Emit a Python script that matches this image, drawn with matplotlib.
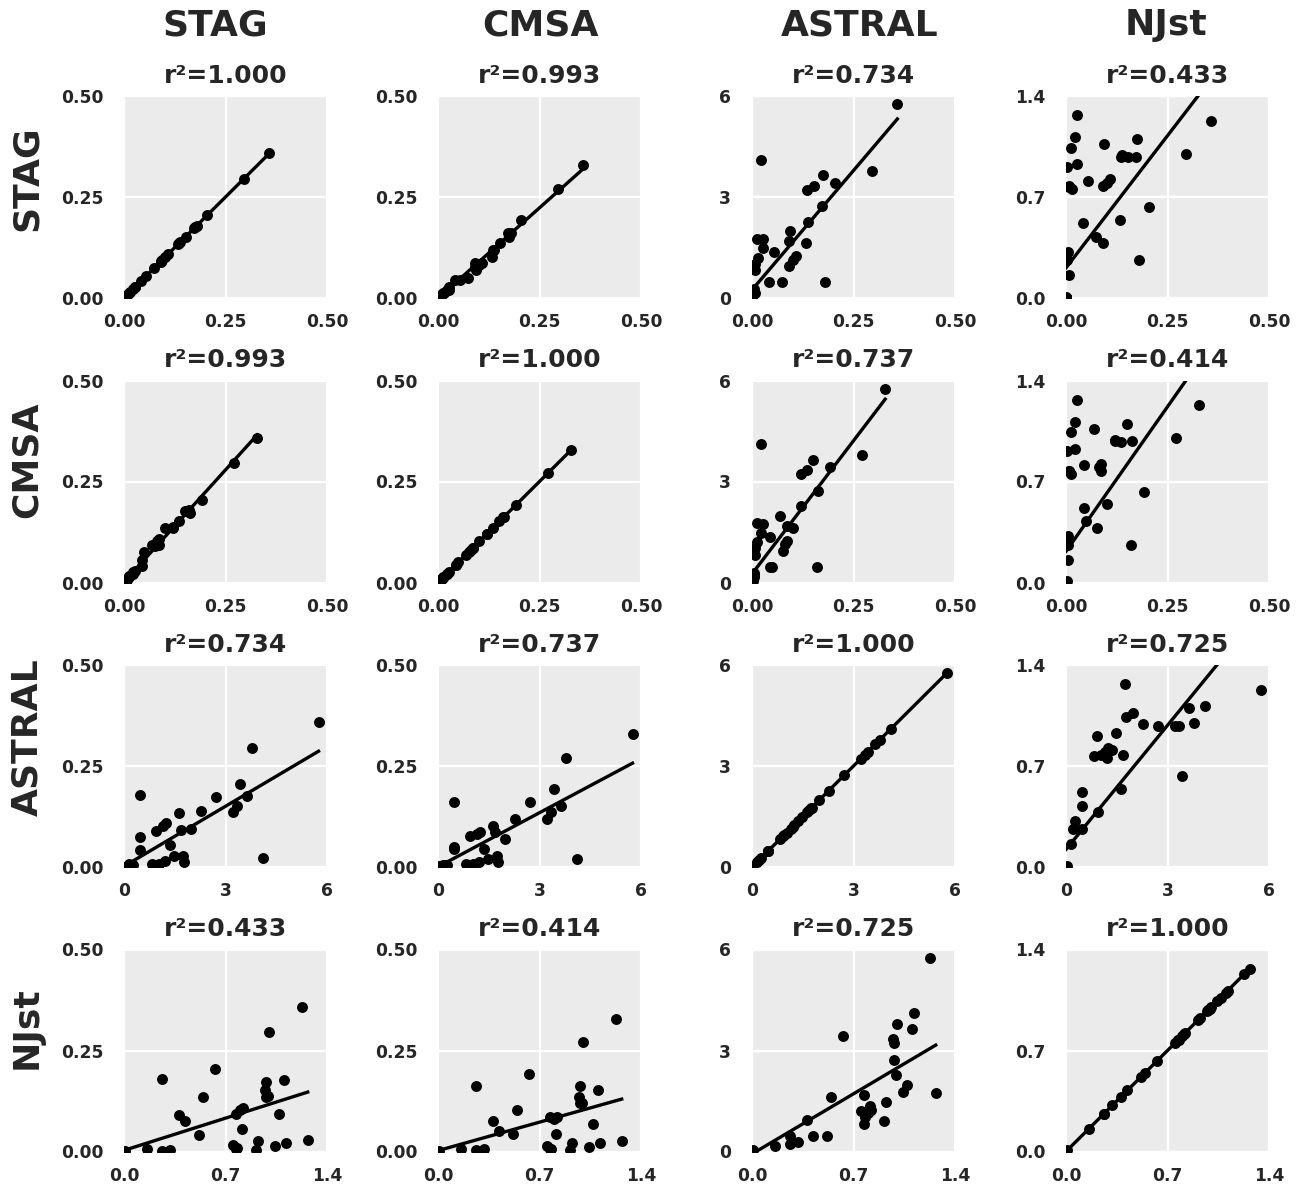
import matplotlib.pyplot as plt
import numpy as np

plt.rcParams['font.family'] = ['DejaVu Sans']

methods = ['STAG', 'CMSA', 'ASTRAL', 'NJst']

# per-locus values (same order in every list);
# the trailing zeros are the loci stacked at the origin of every panel
stag = [0.358, 0.295, 0.205, 0.176, 0.173, 0.179, 0.152, 0.135, 0.138, 0.134,
        0.094, 0.092, 0.108, 0.102, 0.090, 0.028, 0.022, 0.013, 0.027, 0.055,
        0.007, 0.003, 0.008, 0.015, 0.042, 0.075, 0.004, 0.002, 0.007, 0.001,
        0, 0, 0, 0, 0, 0, 0, 0, 0, 0, 0, 0, 0, 0, 0,
        0, 0, 0, 0, 0, 0, 0, 0, 0, 0, 0, 0, 0, 0, 0]
cmsa = [0.328, 0.270, 0.192, 0.151, 0.162, 0.161, 0.135, 0.120, 0.120, 0.102,
        0.069, 0.086, 0.086, 0.081, 0.076, 0.026, 0.021, 0.012, 0.021, 0.044,
        0.007, 0.003, 0.007, 0.013, 0.044, 0.050, 0.005, 0.004, 0.005, 0.002,
        0, 0, 0, 0, 0, 0, 0, 0, 0, 0, 0, 0, 0, 0, 0,
        0, 0, 0, 0, 0, 0, 0, 0, 0, 0, 0, 0, 0, 0, 0]
astral = [5.75, 3.78, 3.43, 3.65, 2.72, 0.47, 3.34, 3.22, 2.27, 1.63,
          1.99, 1.68, 1.24, 1.14, 0.94, 1.74, 4.10, 1.76, 1.48, 1.36,
          0.82, 0.92, 1.02, 1.20, 0.47, 0.47, 0.27, 0.22, 0.15, 0.03,
          0, 0, 0, 0, 0, 0, 0, 0, 0, 0, 0, 0, 0, 0, 0,
          0, 0, 0, 0, 0, 0, 0, 0, 0, 0, 0, 0, 0, 0, 0]
njst = [1.228, 1.000, 0.628, 1.101, 0.979, 0.262, 0.975, 0.978, 0.990, 0.543,
        1.066, 0.774, 0.822, 0.800, 0.380, 1.267, 1.115, 1.043, 0.926, 0.812,
        0.770, 0.910, 0.776, 0.752, 0.517, 0.423, 0.320, 0.262, 0.158, 0.010,
        0, 0, 0, 0, 0, 0, 0, 0, 0, 0, 0, 0, 0, 0, 0,
        0, 0, 0, 0, 0, 0, 0, 0, 0, 0, 0, 0, 0, 0, 0]

r2_table = [[1.000, 0.993, 0.734, 0.433],
            [0.993, 1.000, 0.737, 0.414],
            [0.734, 0.737, 1.000, 0.725],
            [0.433, 0.414, 0.725, 1.000]]

tick_values = {'STAG': [0, 0.25, 0.5], 'CMSA': [0, 0.25, 0.5],
               'ASTRAL': [0, 3, 6], 'NJst': [0, 0.7, 1.4]}
tick_labels = {'STAG': ['0.00', '0.25', '0.50'], 'CMSA': ['0.00', '0.25', '0.50'],
               'ASTRAL': ['0', '3', '6'], 'NJst': ['0.0', '0.7', '1.4']}

data = {'STAG': stag, 'CMSA': cmsa, 'ASTRAL': astral, 'NJst': njst}

W, H = 1304, 1189
fig = plt.figure(figsize=(W / 100, H / 100), dpi=100)
fig.patch.set_facecolor('white')
text_color = '#262626'

for i, row in enumerate(methods):
    for j, col in enumerate(methods):
        left = (124 + 314 * j) / W
        bottom = 1 - (298 + 284.5 * i) / H
        ax = fig.add_axes([left, bottom, 203 / W, 202 / H])
        ax.set_facecolor('#EBEBEB')

        x = np.array(data[row], dtype=float)
        y = np.array(data[col], dtype=float)
        ax.scatter(x, y, s=62, color='black', zorder=3, linewidths=0)
        slope, icpt = np.polyfit(x, y, 1)
        xs = np.array([x.min(), x.max()])
        ax.plot(xs, slope * xs + icpt, color='black', lw=2.4, zorder=3)

        ax.set_xlim(tick_values[row][0], tick_values[row][-1])
        ax.set_ylim(tick_values[col][0], tick_values[col][-1])
        ax.set_xticks(tick_values[row])
        ax.set_xticklabels(tick_labels[row])
        ax.set_yticks(tick_values[col])
        ax.set_yticklabels(tick_labels[col])
        ax.grid(True, color='white', lw=1.6)
        ax.set_axisbelow(True)
        for s in ax.spines.values():
            s.set_visible(False)
        ax.tick_params(axis='x', length=0, pad=11, labelsize=12.3,
                       labelcolor=text_color)
        ax.tick_params(axis='y', length=0, pad=15, labelsize=12.3,
                       labelcolor=text_color)
        for lab in ax.get_xticklabels() + ax.get_yticklabels():
            lab.set_fontweight('bold')

        ax.set_title(f"r\u00b2={r2_table[i][j]:.3f}", fontsize=18,
                     fontweight='bold', color=text_color, pad=9.5)

header_x = [215, 540, 860, 1166]
for name, xc in zip(methods, header_x):
    fig.text(xc / W, 1 - 25 / H, name, ha='center',
             va='center', fontsize=26, fontweight='bold', color=text_color)

row_label_y = [178, 460, 737, 1028]
for name, yc in zip(methods, row_label_y):
    fig.text(27 / W, 1 - yc / H, name, ha='center', va='center',
             rotation=90, fontsize=26, fontweight='bold', color=text_color)

fig.savefig('out.png', dpi=100)
